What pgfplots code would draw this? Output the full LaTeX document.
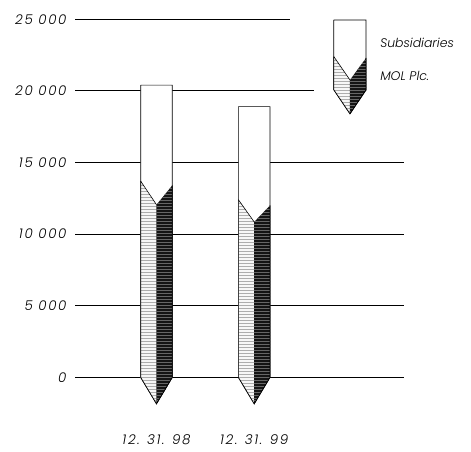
\documentclass[border=0pt]{standalone}
\usepackage{fontspec}
\setmainfont{Poppins}[UprightFont=* Light, ItalicFont=* Light Italic, BoldFont=* Medium]
\usepackage{pgfplots}
\pgfplotsset{compat=1.18}
\usetikzlibrary{patterns}
\newcommand{\tickfont}{\itshape\fontsize{13.5}{15}\selectfont\addfontfeatures{LetterSpace=12}}
\begin{document}
\begin{tikzpicture}
\path[use as bounding box] (0,0) rectangle (471bp,452bp);
\begin{axis}[
  at={(75bp,31.7bp)}, anchor=south west,
  scale only axis, width=329bp, height=408.2bp,
  xmin=0.166, xmax=3.533, ymin=-3000, ymax=25500,
  axis line style={draw=none}, major tick length=0pt,
  ytick={0,5000,10000,15000,20000,25000},
  yticklabels={0,5 000,10 000,15 000,20 000,25 000},
  xtick={1,2},
  xticklabels={12. 31. 98, 12. 31. 99},
  ticklabel style={font=\tickfont},
  yticklabel style={xshift=-5bp},
  xticklabel style={yshift=-11bp},
  clip=false,
]
% grid lines
\addplot[black, line width=1.2bp] coordinates {(0.166,25000) (2.366,25000)};
\addplot[black, line width=1.2bp] coordinates {(0.166,20000) (2.612,20000)};
\addplot[black, line width=1.2bp] coordinates {(0.166,15000) (3.533,15000)};
\addplot[black, line width=1.2bp] coordinates {(0.166,10000) (3.533,10000)};
\addplot[black, line width=1.0bp] coordinates {(0.166,5000) (3.533,5000)};
\addplot[black, line width=1.0bp] coordinates {(0.166,0) (3.533,0)};
% bar 1: 12.31.98 total 20400, MOL 13700
\addplot[fill=white, draw=black, line width=0.7bp] coordinates {(0.838,20400) (1.162,20400) (1.162,0) (1,-1850) (0.838,0) (0.838,20400)};
\addplot[draw=none, fill=black!3, postaction={pattern=horizontal lines, pattern color=black!32}] coordinates {(0.838,13700) (1,12050) (1,-1850) (0.838,0) (0.838,13700)};
\addplot[draw=none, fill=black!92, postaction={pattern=horizontal lines, pattern color=black!60}] coordinates {(1,12050) (1.162,13400) (1.162,0) (1,-1850) (1,12050)};
\addplot[draw=black, line width=0.6bp] coordinates {(0.838,13700) (1,12050)};
\addplot[draw=black, line width=0.7bp] coordinates {(0.838,13700) (0.838,0) (1,-1850) (1.162,0) (1.162,13400)};
% bar 2: 12.31.99 total 18900, MOL 12400
\addplot[fill=white, draw=black, line width=0.7bp] coordinates {(1.838,18900) (2.162,18900) (2.162,0) (2,-1850) (1.838,0) (1.838,18900)};
\addplot[draw=none, fill=black!3, postaction={pattern=horizontal lines, pattern color=black!32}] coordinates {(1.838,12400) (2,10850) (2,-1850) (1.838,0) (1.838,12400)};
\addplot[draw=none, fill=black!92, postaction={pattern=horizontal lines, pattern color=black!60}] coordinates {(2,10850) (2.162,12000) (2.162,0) (2,-1850) (2,10850)};
\addplot[draw=black, line width=0.6bp] coordinates {(1.838,12400) (2,10850)};
\addplot[draw=black, line width=0.7bp] coordinates {(1.838,12400) (1.838,0) (2,-1850) (2.162,0) (2.162,12000)};
% legend icon
\addplot[fill=white, draw=black, line width=0.7bp] coordinates {(2.815,24950) (3.145,24950) (3.145,20070) (2.98,18400) (2.815,20070) (2.815,24950)};
\addplot[draw=none, fill=black!3, postaction={pattern=horizontal lines, pattern color=black!32}] coordinates {(2.815,22390) (2.98,20760) (2.98,18400) (2.815,20070) (2.815,22390)};
\addplot[draw=none, fill=black!92, postaction={pattern=horizontal lines, pattern color=black!60}] coordinates {(2.98,20760) (3.145,22300) (3.145,20070) (2.98,18400) (2.98,20760)};
\addplot[draw=black, line width=0.6bp] coordinates {(2.815,22390) (2.98,20760)};
\addplot[draw=black, line width=0.7bp] coordinates {(2.815,22390) (2.815,20070) (2.98,18400) (3.145,20070) (3.145,22300)};
\node[anchor=base west, inner sep=0pt, font=\itshape\fontsize{12.5}{14}\selectfont] at (axis cs:3.288,23030) {Subsidiaries};
\node[anchor=base west, inner sep=0pt, font=\itshape\fontsize{12.5}{14}\selectfont] at (axis cs:3.288,20726) {MOL Plc.};
\end{axis}
\end{tikzpicture}
\end{document}
